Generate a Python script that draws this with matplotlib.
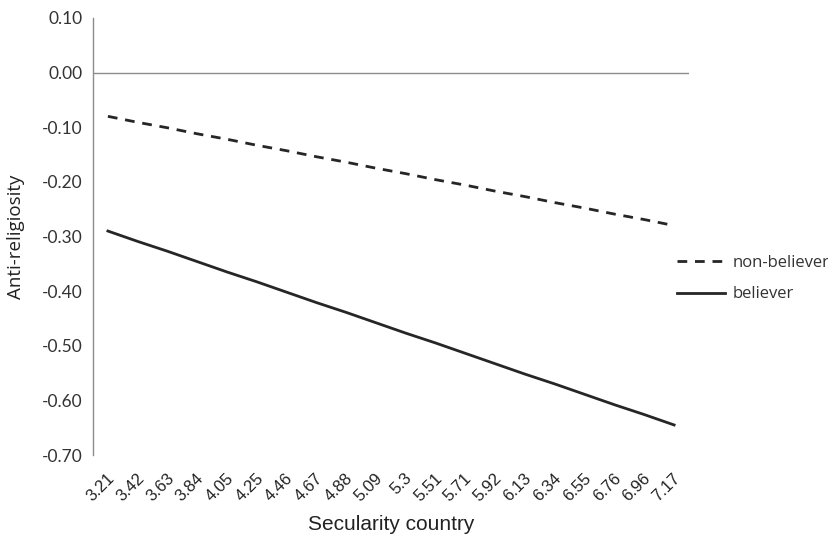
import matplotlib.pyplot as plt
import matplotlib.transforms as mtransforms
import numpy as np

secularity = ["3.21", "3.42", "3.63", "3.84", "4.05", "4.25", "4.46", "4.67", "4.88", "5.09",
              "5.3", "5.51", "5.71", "5.92", "6.13", "6.34", "6.55", "6.76", "6.96", "7.17"]
non_believer = [-0.080, -0.091, -0.101, -0.112, -0.122, -0.133, -0.143, -0.154, -0.164, -0.175,
                -0.185, -0.196, -0.206, -0.217, -0.227, -0.238, -0.248, -0.259, -0.269, -0.280]
believer = [-0.290, -0.309, -0.327, -0.346, -0.365, -0.383, -0.402, -0.421, -0.439, -0.458,
            -0.477, -0.495, -0.514, -0.533, -0.552, -0.570, -0.589, -0.608, -0.626, -0.645]
yticks = [0.10, 0.00, -0.10, -0.20, -0.30, -0.40, -0.50, -0.60, -0.70]

fig = plt.figure(figsize=(8.29, 5.37), dpi=100)
ax = fig.add_axes([93 / 829, 1 - 455 / 537, 596 / 829, 437 / 537])

x = np.arange(len(secularity))
line_col = "#262626"
ax.plot(x, non_believer, color=line_col, lw=2.0, dashes=(3.5, 2.8), label="non-believer")
ax.plot(x, believer, color=line_col, lw=2.0, label="believer")

ax.axhline(0, color="#8c8c8c", lw=1.0, zorder=0)
ax.set_xlim(-0.5, len(secularity) - 0.5)
ax.set_ylim(-0.70, 0.10)

for s in ["top", "right", "bottom"]:
    ax.spines[s].set_visible(False)
ax.spines["left"].set_color("#8c8c8c")
ax.spines["left"].set_linewidth(1.0)

ax.set_yticks(yticks)
ax.set_yticklabels([f"{v:.2f}" for v in yticks], fontfamily="Lato", fontsize=12.5, color="#333333")
ax.set_xticks(x)
ax.set_xticklabels(secularity, rotation=45, ha="right", va="center", rotation_mode="anchor",
                   fontfamily="Liberation Sans", fontsize=12, color="#222222")
ax.tick_params(axis="both", length=0)
ax.tick_params(axis="y", pad=7.5)
ax.tick_params(axis="x", pad=15)

# nudge the rotated labels a little to the right
shift = mtransforms.ScaledTranslation(4 / 100, 0, fig.dpi_scale_trans)
for lab in ax.get_xticklabels():
    lab.set_transform(lab.get_transform() + shift)

ax.set_ylabel("Anti-religiosity", fontfamily="Open Sans", fontsize=13.5, color="#222222", labelpad=12)
ax.set_xlabel("Secularity country", fontfamily="Liberation Sans", fontsize=15, color="#222222", labelpad=8)

leg = fig.legend(loc="center left", bbox_to_anchor=(677 / 829, 1 - 278.5 / 537), frameon=False,
                 prop={"family": "Open Sans", "size": 12}, handlelength=2.9, labelspacing=0.95,
                 handletextpad=0.45, borderpad=0, borderaxespad=0)
for t in leg.get_texts():
    t.set_color("#333333")

fig.savefig("out.png", dpi=100)
